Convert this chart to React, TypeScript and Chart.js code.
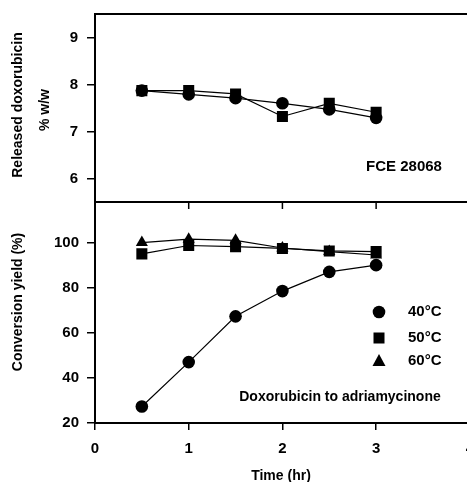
import React, { useEffect, useRef } from 'react';
import { Chart, registerables } from 'chart.js';

Chart.register(...registerables);

// ---- data ----
const timeHr = [0.5, 1, 1.5, 2, 2.5, 3];
const releasedCircle = [7.87, 7.79, 7.71, 7.6, 7.47, 7.29];
const releasedSquare = [7.87, 7.87, 7.8, 7.32, 7.6, 7.41];
const yield40 = [27.3, 47, 67.3, 78.5, 87, 90];
const yield50 = [95, 98.7, 98.2, 97.4, 96.3, 96];
const yield60 = [100, 101.5, 101, 97.6, 96, 94.5];
const xTicks = [0, 1, 2, 3, 4];
const topTicks = [6, 7, 8, 9];
const bottomTicks = [20, 40, 60, 80, 100];
const legendLabels = ['40°C', '50°C', '60°C'];
const topTitle = ['Released doxorubicin', '% w/w'];
const bottomTitle = 'Conversion yield (%)';
const xTitle = 'Time (hr)';
const topNote = 'FCE 28068';
const bottomNote = 'Doxorubicin to adriamycinone';

const FONT = '"Liberation Sans", Arial, sans-serif';

const pts = (ys: number[]) => timeHr.map((x, i) => ({ x, y: ys[i] }));

const overlay = {
  id: 'overlay',
  afterDraw(chart: any) {
    const { ctx, chartArea, scales } = chart;
    const yt = scales.yt, yb = scales.yb, x = scales.x;
    ctx.save();
    ctx.strokeStyle = '#000';
    ctx.fillStyle = '#000';
    ctx.lineWidth = 2;
    const w = chartArea.right - chartArea.left;
    ctx.strokeRect(chartArea.left, yt.top, w, yt.bottom - yt.top);
    ctx.strokeRect(chartArea.left, yb.top, w, yb.bottom - yb.top);
    ctx.lineWidth = 1.5;
    for (const v of [1, 2, 3]) {
      const px = x.getPixelForValue(v);
      ctx.beginPath();
      ctx.moveTo(px, yb.top);
      ctx.lineTo(px, yb.top + 7);
      ctx.stroke();
    }
    // y titles
    ctx.textAlign = 'center';
    ctx.textBaseline = 'middle';
    ctx.font = `bold 14px ${FONT}`;
    const vtext = (t: string, cx: number, cy: number) => {
      ctx.save();
      ctx.translate(cx, cy);
      ctx.rotate(-Math.PI / 2);
      ctx.fillText(t, 0, 0);
      ctx.restore();
    };
    vtext(topTitle[0], 18, 105);
    vtext(topTitle[1], 45, 110);
    vtext(bottomTitle, 18, 302);
    ctx.fillText(xTitle, 281, 476);
    ctx.font = `bold 15px ${FONT}`;
    ctx.fillText(topNote, 404, 167);
    ctx.font = `bold 14px ${FONT}`;
    ctx.fillText(bottomNote, 340, 397);
    // legend
    const lx = 379;
    const ly = [312, 338, 361];
    ctx.beginPath();
    ctx.arc(lx, ly[0], 6.3, 0, Math.PI * 2);
    ctx.fill();
    ctx.fillRect(lx - 5.5, ly[1] - 5.5, 11, 11);
    ctx.beginPath();
    ctx.moveTo(lx, ly[2] - 7);
    ctx.lineTo(lx + 6.5, ly[2] + 5);
    ctx.lineTo(lx - 6.5, ly[2] + 5);
    ctx.closePath();
    ctx.fill();
    ctx.font = `bold 15px ${FONT}`;
    ctx.textAlign = 'left';
    legendLabels.forEach((l, i) => ctx.fillText(l, 408, ly[i]));
    ctx.restore();
  },
};

export default function App() {
  const ref = useRef<HTMLCanvasElement>(null);
  useEffect(() => {
    const canvas = ref.current!;
    const common = {
      borderColor: '#000',
      backgroundColor: '#000',
      pointBackgroundColor: '#000',
      pointBorderColor: '#000',
      borderWidth: 1.2,
      pointBorderWidth: 0,
      showLine: true,
      tension: 0,
    };
    const tickFont = { family: FONT, size: 15, weight: 'bold' };
    const fitY = (s: any) => { s.width = 95; s.paddingTop = 0; s.paddingBottom = 0; };
    const chart = new Chart(canvas, {
      type: 'line',
      data: {
        datasets: [
          { ...common, data: pts(releasedSquare), yAxisID: 'yt', pointStyle: 'rect', pointRadius: 7.8 },
          { ...common, data: pts(releasedCircle), yAxisID: 'yt', pointStyle: 'circle', pointRadius: 6.3 },
          { ...common, label: legendLabels[2], data: pts(yield60), yAxisID: 'yb', pointStyle: 'triangle', pointRadius: 7 },
          { ...common, label: legendLabels[1], data: pts(yield50), yAxisID: 'yb', pointStyle: 'rect', pointRadius: 7.8 },
          { ...common, label: legendLabels[0], data: pts(yield40), yAxisID: 'yb', pointStyle: 'circle', pointRadius: 6.3 },
        ],
      },
      options: {
        animation: false,
        responsive: false,
        devicePixelRatio: 1,
        layout: { padding: { top: 14, right: 11, left: 0, bottom: 0 } },
        plugins: { legend: { display: false }, tooltip: { enabled: false } },
        scales: {
          x: {
            type: 'linear',
            min: 0,
            max: 4,
            afterFit: (s: any) => { s.height = 59; },
            afterBuildTicks: (s: any) => { s.ticks = xTicks.map((v) => ({ value: v })); },
            border: { display: false },
            grid: { drawOnChartArea: false, tickLength: 7, color: '#000', lineWidth: 1.5 },
            ticks: { color: '#000', padding: 10, font: tickFont, maxRotation: 0 },
          },
          yb: {
            type: 'linear',
            position: 'left',
            stack: 'v',
            stackWeight: 221,
            min: 20,
            max: 118,
            afterFit: fitY,
            afterBuildTicks: (s: any) => { s.ticks = bottomTicks.map((v) => ({ value: v })); },
            border: { display: false },
            grid: { drawOnChartArea: false, tickLength: 8, color: '#000', lineWidth: 1.5 },
            ticks: { color: '#000', padding: 8, font: tickFont },
          },
          yt: {
            type: 'linear',
            position: 'left',
            stack: 'v',
            stackWeight: 188,
            min: 5.5,
            max: 9.5,
            afterFit: fitY,
            afterBuildTicks: (s: any) => { s.ticks = topTicks.map((v) => ({ value: v })); },
            border: { display: false },
            grid: { drawOnChartArea: false, tickLength: 8, color: '#000', lineWidth: 1.5 },
            ticks: { color: '#000', padding: 9, font: tickFont },
          },
        },
      },
      plugins: [overlay],
    } as any);
    return () => chart.destroy();
  }, []);
  return (
    <div style={{ position: 'absolute', left: 0, top: 0, width: 467, height: 482, overflow: 'hidden', background: '#fff' }}>
      <canvas ref={ref} width={484} height={482} style={{ position: 'absolute', left: 0, top: 0, width: 484, height: 482 }} />
    </div>
  );
}
